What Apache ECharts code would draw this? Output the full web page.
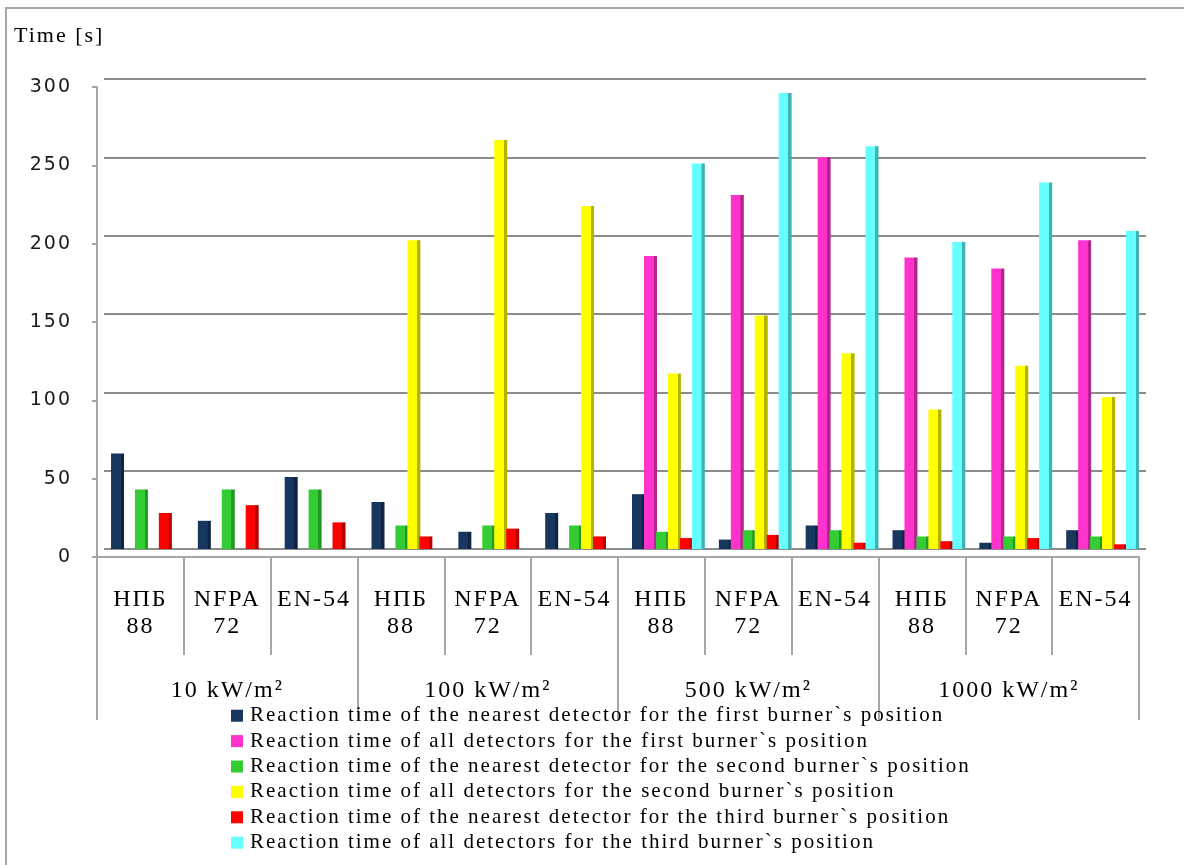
<!DOCTYPE html>
<html>
<head>
<meta charset="utf-8">
<script src="https://cdn.jsdelivr.net/npm/echarts@6/dist/echarts.min.js"></script>
<style>
  html, body { margin: 0; padding: 0; background: #ffffff; }
  #chart { width: 1184px; height: 865px; }
</style>
</head>
<body>
<div id="chart"></div>
<script>
// Loose tracking like the original document typeface
(function () {
  const proto = CanvasRenderingContext2D.prototype;
  const baseFill = proto.fillText;
  proto.fillText = function (text, x, y, maxWidth) {
    if ('letterSpacing' in this) this.letterSpacing = '2px';
    return maxWidth === undefined ? baseFill.call(this, text, x, y) : baseFill.call(this, text, x, y, maxWidth);
  };
})();

// Standards compared within each heat-release group
const categories = ['НПБ\n88', 'NFPA\n72', 'EN-54',
                    'НПБ\n88', 'NFPA\n72', 'EN-54',
                    'НПБ\n88', 'NFPA\n72', 'EN-54',
                    'НПБ\n88', 'NFPA\n72', 'EN-54'];
const groups = ['10 kW/m²', '100 kW/m²', '500 kW/m²', '1000 kW/m²'];
const yTicks = [0, 50, 100, 150, 200, 250, 300];

const seriesNames = [
  'Reaction time of the nearest detector for the first burner`s position',
  'Reaction time of all detectors for the first burner`s position',
  'Reaction time of the nearest detector for the second burner`s position',
  'Reaction time of all detectors for the second burner`s position',
  'Reaction time of the nearest detector for the third burner`s position',
  'Reaction time of all detectors for the third burner`s position'
];

// Reaction times, seconds (null = not measured)
const nearestFirst  = [61, 18, 46,  30,  11,  23,  35,   6,  15,  12,   4,  12];
const allFirst      = [null, null, null, null, null, null, 187, 226, 250, 186, 179, 197];
const nearestSecond = [38, 38, 38,  15,  15,  15,  11,  12,  12,   8,   8,   8];
const allSecond     = [null, null, null, 197, 261, 219, 112, 149, 125,  89, 117,  97];
const nearestThird  = [23, 28, 17,   8,  13,   8,   7,   9,   4,   5,   7,   3];
const allThird      = [null, null, null, null, null, null, 246, 291, 257, 196, 234, 203];

const seriesData = [nearestFirst, allFirst, nearestSecond, allSecond, nearestThird, allThird];
const colors = ['#17375E', '#FF33CC', '#33CC33', '#FFFF00', '#FF0000', '#66FFFF'];
const sideColors = ['#0E2440', '#B3248F', '#229922', '#B3B300', '#B30000', '#3FB3B3'];

const serif = '"Liberation Serif", "Times New Roman", serif';
const sans = '"DejaVu Sans", sans-serif';

// Column face with a darker right-hand side for depth
function columnFill(i) {
  return {
    type: 'linear', x: 0, y: 0, x2: 1, y2: 0,
    colorStops: [
      { offset: 0, color: colors[i] },
      { offset: 0.74, color: colors[i] },
      { offset: 0.75, color: sideColors[i] },
      { offset: 1, color: sideColors[i] }
    ]
  };
}

const chart = echarts.init(document.getElementById('chart'));
chart.setOption({
  animation: false,
  backgroundColor: '#ffffff',
  color: colors,
  graphic: [{
    type: 'rect',
    shape: { x: 6, y: 8, width: 1200, height: 900 },
    style: { fill: 'none', stroke: '#a6a6a6', lineWidth: 2 },
    silent: true
  }],
  title: {
    text: 'Time [s]',
    left: 9, top: 20,
    textStyle: { fontFamily: serif, fontSize: 22, fontWeight: 'normal', color: '#000' }
  },
  legend: {
    orient: 'vertical',
    left: 226, top: 698,
    itemWidth: 12, itemHeight: 12, itemGap: 0,
    icon: 'rect',
    data: seriesNames.map((name, i) => ({ name: name, itemStyle: { color: colors[i] } })),
    textStyle: { fontFamily: serif, fontSize: 21, color: '#000', lineHeight: 25.4, padding: [0, 0, 0, 2] }
  },
  grid: [
    // back wall: gridlines and columns
    { left: 104, right: 38, top: 79, bottom: 316 },
    // front edge: axes, ticks and labels
    { left: 97, right: 45, top: 87, bottom: 308 }
  ],
  xAxis: [
    { type: 'category', gridIndex: 0, data: categories, show: false },
    {
      type: 'category', gridIndex: 1, data: categories, position: 'bottom',
      axisLine: { show: true, lineStyle: { color: '#a6a6a6', width: 2 } },
      axisTick: { show: true, interval: 0, length: 98, lineStyle: { color: '#a6a6a6', width: 2 } },
      axisLabel: { interval: 0, margin: 29, fontFamily: serif, fontSize: 24, lineHeight: 27, color: '#000', align: 'center' }
    },
    {
      type: 'category', gridIndex: 1, data: groups, position: 'bottom',
      axisLine: { show: false },
      axisTick: { show: true, interval: 0, length: 163, lineStyle: { color: '#a6a6a6', width: 2 } },
      axisLabel: { interval: 0, margin: 122, fontFamily: serif, fontSize: 24, color: '#000' }
    }
  ],
  yAxis: [
    {
      type: 'value', gridIndex: 0, min: 0, max: 300, interval: 50,
      axisLine: { show: false }, axisTick: { show: false }, axisLabel: { show: false },
      splitLine: { show: true, lineStyle: { color: '#8c8c8c', width: 2 } }
    },
    {
      type: 'value', gridIndex: 1, min: yTicks[0], max: yTicks[yTicks.length - 1], interval: 50,
      axisLine: { show: true, lineStyle: { color: '#a6a6a6', width: 2 } },
      axisTick: { show: true, length: 5, lineStyle: { color: '#a6a6a6', width: 2 } },
      splitLine: { show: false },
      axisLabel: { margin: 25, fontFamily: sans, fontSize: 19, color: '#1a1a1a' }
    }
  ],
  series: seriesNames.map((name, i) => ({
    name: name,
    type: 'bar',
    xAxisIndex: 0, yAxisIndex: 0,
    data: seriesData[i],
    barWidth: 13,
    barGap: '-8%',
    barCategoryGap: '17%',
    itemStyle: { color: columnFill(i) }
  }))
});
</script>
</body>
</html>
